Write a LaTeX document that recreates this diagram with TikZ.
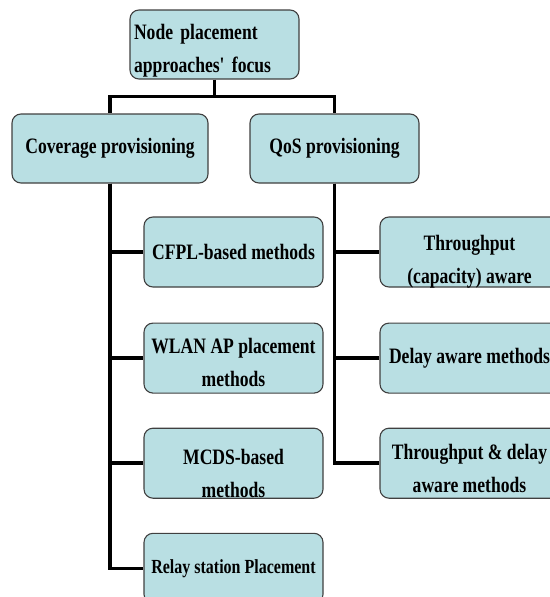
\documentclass[tikz,border=0pt]{standalone}
\usepackage{fontspec}
\newfontfamily\boxfont[FakeStretch=0.8]{Liberation Serif}
\usetikzlibrary{positioning}
\definecolor{bcolor}{HTML}{B9DFE3}
\definecolor{ecolor}{HTML}{404040}

\begin{document}
\begin{tikzpicture}[x=1pt, y=-1pt,
    box/.style={rectangle, draw=ecolor, fill=bcolor, rounded corners=9pt, line width=1.1pt, minimum width=179pt, minimum height=70pt, inner sep=2pt, align=center, font=\boxfont\bfseries\fontsize{22}{33}\selectfont},
    twoline/.style={text height=#1, text depth=0pt, inner ysep=0pt},
    link/.style={line width=3.5pt},
  ]
    \useasboundingbox (0,0) rectangle (549,597);
    \node[box, text height=29pt, text depth=40pt, inner ysep=0pt, minimum width=169pt, minimum height=69pt, text width=161pt, align=left] (root) at (214.5,44.5) {Node placement\\approaches' focus};
    \node[box, minimum width=196pt, minimum height=69pt] (cov) at (110,148.5) {Coverage provisioning};
    \node[box, minimum width=169pt, minimum height=69pt] (qos) at (334.5,148.5) {QoS provisioning};
    \coordinate[below=17pt of root] (split);

    \node[box] (cfpl) at (233.5,252) {CFPL-based methods};
    \node[box, twoline=56pt, below=35pt of cfpl] (wlan) {WLAN AP placement\\methods};
    \node[box, twoline=68pt, below=34pt of wlan] (mcds) {MCDS-based\\methods};
    \node[box, below=34pt of mcds, font=\boxfont\bfseries\fontsize{20}{33}\selectfont] (relay) {Relay station Placement};

    \node[box, twoline=62pt] (thru) at (469.5,252) {Throughput\\(capacity) aware};
    \node[box, below=35pt of thru] (delay) {Delay aware methods};
    \node[box, twoline=58pt, below=34pt of delay] (both) {Throughput \& delay\\aware methods};

    \draw[link] (root.south) -- (split) -| (cov.north);
    \draw[link] (split) -| (qos.north);
    \foreach \n in {cfpl, wlan, mcds, relay}
      \draw[link] (cov.south) |- (\n.west);
    \foreach \n in {thru, delay, both}
      \draw[link] (qos.south) |- (\n.west);
  \end{tikzpicture}
\end{document}
